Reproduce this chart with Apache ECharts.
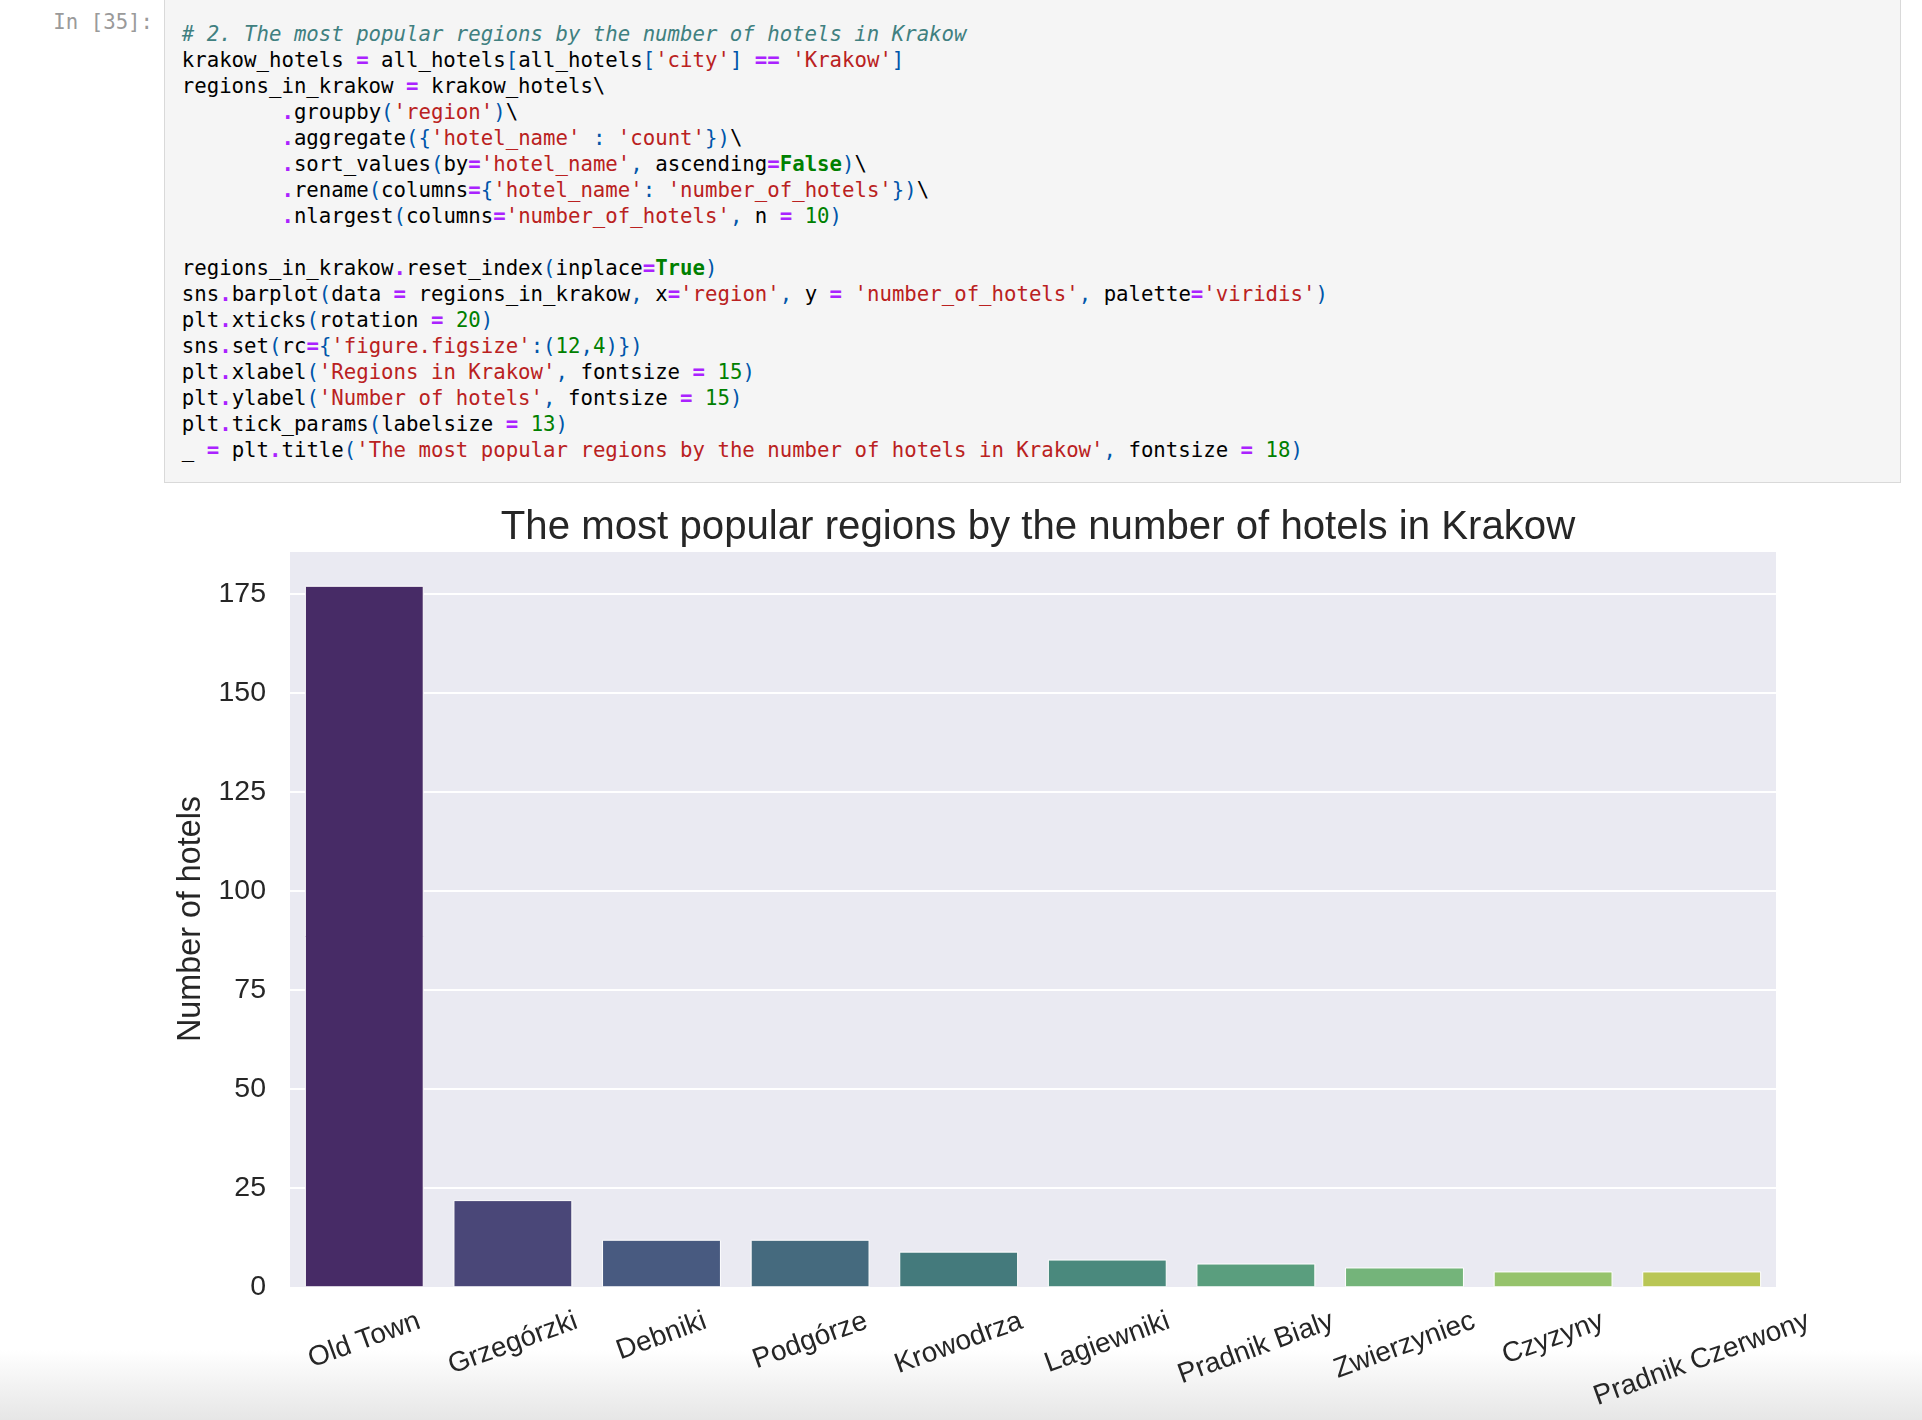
<!DOCTYPE html>
<html><head><meta charset="utf-8">
<script src="https://cdn.jsdelivr.net/npm/echarts@6/dist/echarts.min.js"></script>
<style>
html,body{margin:0;padding:0;width:1922px;height:1420px;background:#fff;overflow:hidden;position:relative}
#fade{position:absolute;left:0;top:1350px;width:1922px;height:70px;background:linear-gradient(to bottom,rgba(234,234,234,0),#e6e6e6)}
#prompt{position:absolute;left:0;width:153px;text-align:right;top:8.7px;font-family:"DejaVu Sans Mono";font-size:20.7px;color:#9a9a9a;line-height:26px;white-space:pre}
#cell{position:absolute;left:164px;top:-2px;width:1737px;height:485px;background:#f5f5f5;border:1px solid #d9d9d9;box-sizing:border-box}
#code{position:absolute;left:181.8px;top:22px;margin:0;font-family:"DejaVu Sans Mono";font-size:20.7px;line-height:25.97px;white-space:pre;color:#000}
#code .c{color:#408080;font-style:italic}
#code .s{color:#ba2121}
#code .k{color:#008000;font-weight:bold}
#code .n{color:#008000}
#code .o{color:#aa22ff;font-weight:bold}
#code .p{color:#0055aa}
#chart{position:absolute;left:0;top:0;width:1922px;height:1420px}
</style></head>
<body>
<div id="fade"></div>
<div id="cell"></div>
<div id="prompt">In [35]:</div>
<pre id="code"></pre>
<div id="chart"></div>
<script>
// ---- data ----
const regions = ['Old Town', 'Grzegórzki', 'Debniki', 'Podgórze', 'Krowodrza', 'Lagiewniki', 'Pradnik Bialy', 'Zwierzyniec', 'Czyzyny', 'Pradnik Czerwony'];
const hotelCounts = [177, 22, 12, 12, 9, 7, 6, 5, 4, 4];
const yTickStep = 25;
const barColors = ['#472b66', '#4a4778', '#485a80', '#456a7e', '#447a7c', '#4a897d', '#5a9e7e', '#74b47a', '#96c36c', '#b9c655'];
const chartTitle = 'The most popular regions by the number of hotels in Krakow';
const yAxisName = 'Number of hotels';

const codeLines = [
  "# 2. The most popular regions by the number of hotels in Krakow",
  "krakow_hotels = all_hotels[all_hotels['city'] == 'Krakow']",
  "regions_in_krakow = krakow_hotels\\",
  "        .groupby('region')\\",
  "        .aggregate({'hotel_name' : 'count'})\\",
  "        .sort_values(by='hotel_name', ascending=False)\\",
  "        .rename(columns={'hotel_name': 'number_of_hotels'})\\",
  "        .nlargest(columns='number_of_hotels', n = 10)",
  "",
  "regions_in_krakow.reset_index(inplace=True)",
  "sns.barplot(data = regions_in_krakow, x='region', y = 'number_of_hotels', palette='viridis')",
  "plt.xticks(rotation = 20)",
  "sns.set(rc={'figure.figsize':(12,4)})",
  "plt.xlabel('Regions in Krakow', fontsize = 15)",
  "plt.ylabel('Number of hotels', fontsize = 15)",
  "plt.tick_params(labelsize = 13)",
  "_ = plt.title('The most popular regions by the number of hotels in Krakow', fontsize = 18)"
];

// ---- code cell highlighting ----
function esc(s){return s.replace(/&/g,'&amp;').replace(/</g,'&lt;').replace(/>/g,'&gt;');}
function hl(line){
  const re = /(#.*$)|('[^']*')|\b(True|False)\b|(\d+)|(==|=|\.)|([()\[\]{},:])|([^#'()\[\]{},:=.\d]+)|(.)/g;
  let out = '', m;
  while ((m = re.exec(line)) !== null) {
    if (m[0] === '') { re.lastIndex++; continue; }
    const t = esc(m[0]);
    if (m[1]) out += '<span class="c">' + t + '</span>';
    else if (m[2]) out += '<span class="s">' + t + '</span>';
    else if (m[3]) out += '<span class="k">' + t + '</span>';
    else if (m[4]) out += '<span class="n">' + t + '</span>';
    else if (m[5]) out += '<span class="o">' + t + '</span>';
    else if (m[6]) out += '<span class="p">' + t + '</span>';
    else out += t;
  }
  return out;
}
document.getElementById('code').innerHTML = codeLines.map(hl).join('\n');

// ---- chart ----
const FONT = '"Liberation Sans", Arial, sans-serif';
const TXT = '#262626';
const ROT = 20 * Math.PI / 180;
const labelSize = 28;
const cvs = document.createElement('canvas').getContext('2d');
cvs.font = labelSize + 'px "Liberation Sans"';
const rich = {};
regions.forEach((r, i) => {
  const w = cvs.measureText(r).width;
  // shift the rotated label so that its rotated bounding box hangs below the tick like matplotlib
  rich['r' + i] = {
    fontFamily: FONT, fontSize: labelSize, color: TXT,
    padding: [w * Math.sin(ROT) * Math.cos(ROT), w * Math.sin(ROT) * Math.sin(ROT), 0, 0]
  };
});

const chart = echarts.init(document.getElementById('chart'), null, {renderer: 'canvas'});
chart.setOption({
  backgroundColor: 'transparent',
  animation: false,
  title: {
    text: chartTitle,
    left: 1033, top: 500, textAlign: 'center',
    textStyle: {fontFamily: FONT, fontSize: 40.2, fontWeight: 'normal', color: TXT, lineHeight: 45}
  },
  grid: {
    left: 290, top: 550.7, width: 1486, bottom: 132.7,
    show: true, backgroundColor: '#eaeaf2', borderWidth: 0
  },
  xAxis: {
    type: 'category',
    data: regions,
    axisLine: {show: false}, axisTick: {show: false}, splitLine: {show: false},
    axisLabel: {
      rotate: 20, align: 'center', verticalAlign: 'middle', margin: 33,
      interval: 0, fontFamily: FONT, fontSize: labelSize, color: TXT,
      formatter: (v, i) => '{r' + i + '|' + v + '}',
      rich: rich
    }
  },
  yAxis: {
    type: 'value',
    min: 0, max: Math.max(...hotelCounts) * 1.05, interval: yTickStep,
    name: yAxisName, nameLocation: 'middle', nameGap: 80, nameRotate: 90,
    nameTextStyle: {fontFamily: FONT, fontSize: 32.3, color: TXT},
    axisLine: {show: false}, axisTick: {show: false},
    axisLabel: {
      margin: 24, fontFamily: FONT, fontSize: 28.5, color: TXT,
      formatter: v => (Math.abs(v % yTickStep) < 1e-9 ? String(v) : '')
    },
    splitLine: {show: true, lineStyle: {color: '#ffffff', width: 1.8}}
  },
  series: [{
    type: 'bar',
    barCategoryGap: '20%',
    data: hotelCounts.map((v, i) => ({value: v, itemStyle: {color: barColors[i]}})),
    itemStyle: {borderColor: '#ffffff', borderWidth: 1}
  }]
});
</script>
</body></html>
